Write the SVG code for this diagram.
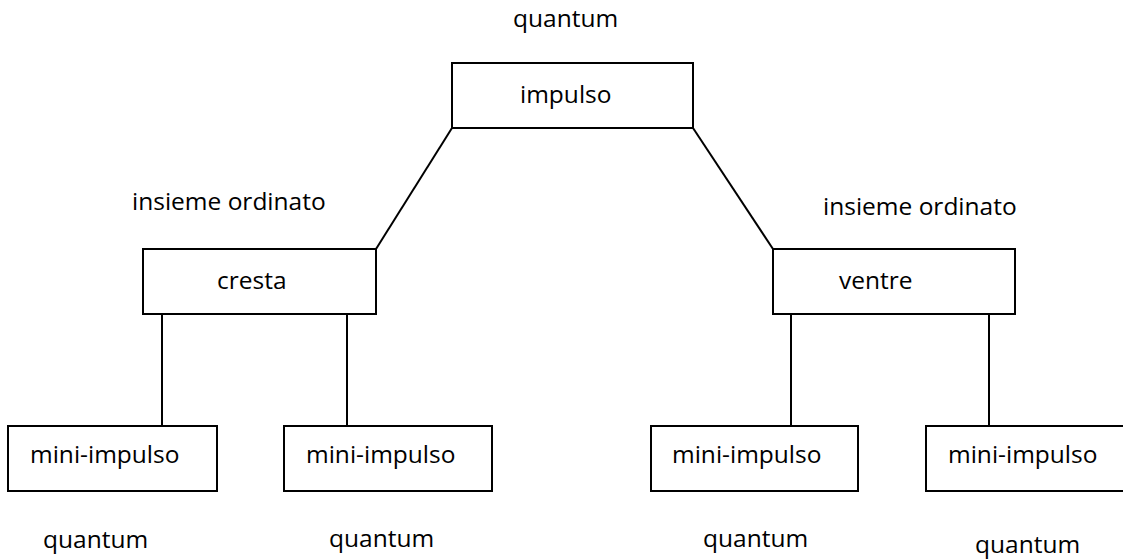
<svg xmlns="http://www.w3.org/2000/svg" width="1123" height="560" viewBox="0 0 1123 560">
  <style>
    .box { fill: #ffffff; stroke: #000000; stroke-width: 2; }
    .link { fill: none; stroke: #000000; stroke-width: 2; }
    .lbl { font-family: "Open Sans", "Liberation Sans", sans-serif; font-size: 24.5px; fill: #000000; }
  </style>
  <rect width="1123" height="560" fill="#ffffff"/>

  <!-- connectors -->
  <g id="connectors">
    <line class="link" x1="452" y1="128" x2="376" y2="249"/>
    <line class="link" x1="693" y1="128" x2="773" y2="249"/>
    <line class="link" x1="162" y1="314" x2="162" y2="426"/>
    <line class="link" x1="347" y1="314" x2="347" y2="426"/>
    <line class="link" x1="791" y1="314" x2="791" y2="426"/>
    <line class="link" x1="989" y1="314" x2="989" y2="426"/>
  </g>

  <!-- free labels -->
  <g id="labels">
    <text class="lbl" x="513" y="27">quantum</text>
    <text class="lbl" x="132" y="210">insieme ordinato</text>
    <text class="lbl" x="823" y="215">insieme ordinato</text>
    <text class="lbl" x="43" y="548">quantum</text>
    <text class="lbl" x="329" y="547">quantum</text>
    <text class="lbl" x="703" y="547">quantum</text>
    <text class="lbl" x="975" y="553">quantum</text>
  </g>

  <g id="impulso">
    <rect class="box" x="452" y="63" width="241" height="65"/>
    <text class="lbl" x="520" y="103">impulso</text>
  </g>

  <g id="cresta">
    <rect class="box" x="143" y="249" width="233" height="65"/>
    <text class="lbl" x="217" y="289">cresta</text>
  </g>

  <g id="ventre">
    <rect class="box" x="773" y="249" width="242" height="65"/>
    <text class="lbl" x="839" y="289">ventre</text>
  </g>

  <g id="mini-impulso-1">
    <rect class="box" x="8" y="426" width="209" height="65"/>
    <text class="lbl" x="30" y="463">mini-impulso</text>
  </g>

  <g id="mini-impulso-2">
    <rect class="box" x="284" y="426" width="208" height="65"/>
    <text class="lbl" x="306" y="463">mini-impulso</text>
  </g>

  <g id="mini-impulso-3">
    <rect class="box" x="651" y="426" width="207" height="65"/>
    <text class="lbl" x="672" y="463">mini-impulso</text>
  </g>

  <g id="mini-impulso-4">
    <rect class="box" x="926" y="426" width="200" height="65"/>
    <text class="lbl" x="948" y="463">mini-impulso</text>
  </g>
</svg>
